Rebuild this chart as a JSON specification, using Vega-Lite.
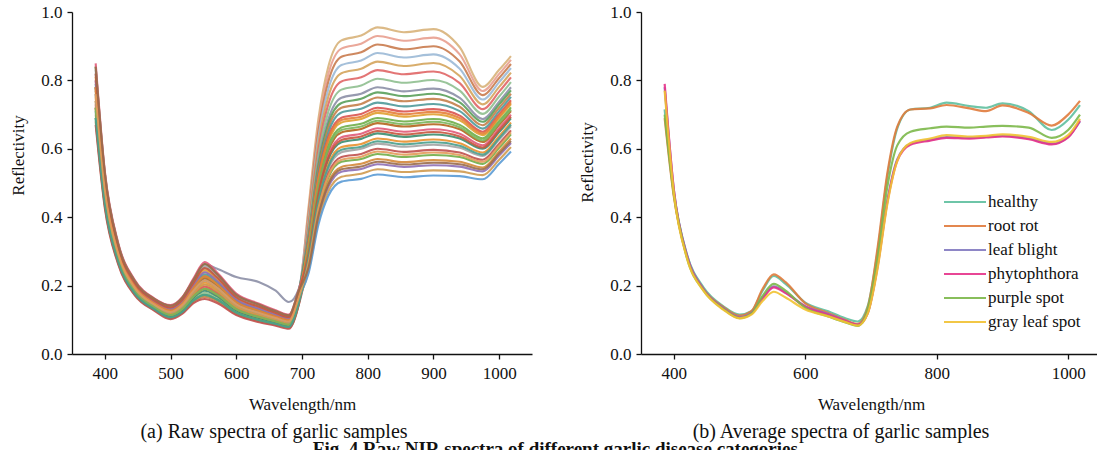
{
"$schema": "https://vega.github.io/schema/vega-lite/v6.json",
"padding": {"left": 9, "top": 3, "right": 0, "bottom": 0},
"background": "white",
"spacing": 46,
"resolve": {"scale": {"color": "independent"}, "legend": {"color": "independent"}},
"config": {
  "view": {"stroke": null},
  "font": "Liberation Serif",
  "axis": {"grid": false, "domainColor": "#111", "tickColor": "#111", "labelColor": "#111", "titleColor": "#111", "labelFont": "Liberation Serif", "labelFontSize": 17, "titleFont": "Liberation Serif", "titleFontSize": 17, "titleFontWeight": "normal", "tickSize": 5, "domainWidth": 1.3, "tickWidth": 1.3},
  "axisX": {"labelPadding": 6, "titlePadding": 15},
  "axisY": {"labelPadding": 5, "titlePadding": 13},
  "title": {"font": "Liberation Serif", "color": "#111"}
},
"title": {"text": "Fig. 4  Raw NIR spectra of different garlic disease categories", "orient": "bottom", "anchor": "middle", "fontWeight": "bold", "fontSize": 19, "offset": -2},
"datasets": {
"raw": [
{"s":"s01","w":386,"r":0.76},{"s":"s01","w":400,"r":0.48},{"s":"s01","w":420,"r":0.295},{"s":"s01","w":445,"r":0.195},{"s":"s01","w":475,"r":0.145},{"s":"s01","w":500,"r":0.123},{"s":"s01","w":518,"r":0.143},{"s":"s01","w":535,"r":0.185},{"s":"s01","w":552,"r":0.215},{"s":"s01","w":570,"r":0.195},{"s":"s01","w":600,"r":0.145},{"s":"s01","w":635,"r":0.12},{"s":"s01","w":660,"r":0.105},{"s":"s01","w":680,"r":0.095},{"s":"s01","w":695,"r":0.165},{"s":"s01","w":710,"r":0.43},{"s":"s01","w":725,"r":0.688},{"s":"s01","w":740,"r":0.84},{"s":"s01","w":760,"r":0.917},{"s":"s01","w":790,"r":0.931},{"s":"s01","w":815,"r":0.955},{"s":"s01","w":855,"r":0.941},{"s":"s01","w":900,"r":0.95},{"s":"s01","w":940,"r":0.897},{"s":"s01","w":975,"r":0.781},{"s":"s01","w":1000,"r":0.831},{"s":"s01","w":1018,"r":0.871},
{"s":"s02","w":386,"r":0.80},{"s":"s02","w":400,"r":0.504},{"s":"s02","w":420,"r":0.309},{"s":"s02","w":445,"r":0.205},{"s":"s02","w":475,"r":0.153},{"s":"s02","w":500,"r":0.132},{"s":"s02","w":518,"r":0.154},{"s":"s02","w":535,"r":0.201},{"s":"s02","w":552,"r":0.239},{"s":"s02","w":570,"r":0.215},{"s":"s02","w":600,"r":0.159},{"s":"s02","w":635,"r":0.132},{"s":"s02","w":660,"r":0.115},{"s":"s02","w":680,"r":0.104},{"s":"s02","w":695,"r":0.175},{"s":"s02","w":710,"r":0.419},{"s":"s02","w":725,"r":0.67},{"s":"s02","w":740,"r":0.818},{"s":"s02","w":760,"r":0.893},{"s":"s02","w":790,"r":0.907},{"s":"s02","w":815,"r":0.93},{"s":"s02","w":855,"r":0.916},{"s":"s02","w":900,"r":0.925},{"s":"s02","w":940,"r":0.876},{"s":"s02","w":975,"r":0.769},{"s":"s02","w":1000,"r":0.819},{"s":"s02","w":1018,"r":0.86},
{"s":"s03","w":386,"r":0.72},{"s":"s03","w":400,"r":0.456},{"s":"s03","w":420,"r":0.281},{"s":"s03","w":445,"r":0.185},{"s":"s03","w":475,"r":0.137},{"s":"s03","w":500,"r":0.114},{"s":"s03","w":518,"r":0.132},{"s":"s03","w":535,"r":0.169},{"s":"s03","w":552,"r":0.191},{"s":"s03","w":570,"r":0.175},{"s":"s03","w":600,"r":0.131},{"s":"s03","w":635,"r":0.108},{"s":"s03","w":660,"r":0.095},{"s":"s03","w":680,"r":0.086},{"s":"s03","w":695,"r":0.155},{"s":"s03","w":710,"r":0.407},{"s":"s03","w":725,"r":0.652},{"s":"s03","w":740,"r":0.796},{"s":"s03","w":760,"r":0.869},{"s":"s03","w":790,"r":0.882},{"s":"s03","w":815,"r":0.905},{"s":"s03","w":855,"r":0.891},{"s":"s03","w":900,"r":0.90},{"s":"s03","w":940,"r":0.855},{"s":"s03","w":975,"r":0.757},{"s":"s03","w":1000,"r":0.807},{"s":"s03","w":1018,"r":0.848},
{"s":"s04","w":386,"r":0.82},{"s":"s04","w":400,"r":0.516},{"s":"s04","w":420,"r":0.316},{"s":"s04","w":445,"r":0.21},{"s":"s04","w":475,"r":0.157},{"s":"s04","w":500,"r":0.136},{"s":"s04","w":518,"r":0.159},{"s":"s04","w":535,"r":0.209},{"s":"s04","w":552,"r":0.251},{"s":"s04","w":570,"r":0.225},{"s":"s04","w":600,"r":0.166},{"s":"s04","w":635,"r":0.138},{"s":"s04","w":660,"r":0.12},{"s":"s04","w":680,"r":0.108},{"s":"s04","w":695,"r":0.18},{"s":"s04","w":710,"r":0.396},{"s":"s04","w":725,"r":0.634},{"s":"s04","w":740,"r":0.774},{"s":"s04","w":760,"r":0.845},{"s":"s04","w":790,"r":0.858},{"s":"s04","w":815,"r":0.88},{"s":"s04","w":855,"r":0.867},{"s":"s04","w":900,"r":0.876},{"s":"s04","w":940,"r":0.834},{"s":"s04","w":975,"r":0.744},{"s":"s04","w":1000,"r":0.795},{"s":"s04","w":1018,"r":0.836},
{"s":"s05","w":386,"r":0.74},{"s":"s05","w":400,"r":0.468},{"s":"s05","w":420,"r":0.288},{"s":"s05","w":445,"r":0.19},{"s":"s05","w":475,"r":0.141},{"s":"s05","w":500,"r":0.118},{"s":"s05","w":518,"r":0.137},{"s":"s05","w":535,"r":0.177},{"s":"s05","w":552,"r":0.203},{"s":"s05","w":570,"r":0.185},{"s":"s05","w":600,"r":0.138},{"s":"s05","w":635,"r":0.114},{"s":"s05","w":660,"r":0.10},{"s":"s05","w":680,"r":0.09},{"s":"s05","w":695,"r":0.16},{"s":"s05","w":710,"r":0.385},{"s":"s05","w":725,"r":0.616},{"s":"s05","w":740,"r":0.752},{"s":"s05","w":760,"r":0.821},{"s":"s05","w":790,"r":0.834},{"s":"s05","w":815,"r":0.855},{"s":"s05","w":855,"r":0.842},{"s":"s05","w":900,"r":0.851},{"s":"s05","w":940,"r":0.813},{"s":"s05","w":975,"r":0.73},{"s":"s05","w":1000,"r":0.781},{"s":"s05","w":1018,"r":0.823},
{"s":"s06","w":386,"r":0.78},{"s":"s06","w":400,"r":0.492},{"s":"s06","w":420,"r":0.302},{"s":"s06","w":445,"r":0.20},{"s":"s06","w":475,"r":0.149},{"s":"s06","w":500,"r":0.127},{"s":"s06","w":518,"r":0.148},{"s":"s06","w":535,"r":0.193},{"s":"s06","w":552,"r":0.227},{"s":"s06","w":570,"r":0.205},{"s":"s06","w":600,"r":0.152},{"s":"s06","w":635,"r":0.126},{"s":"s06","w":660,"r":0.11},{"s":"s06","w":680,"r":0.099},{"s":"s06","w":695,"r":0.17},{"s":"s06","w":710,"r":0.374},{"s":"s06","w":725,"r":0.598},{"s":"s06","w":740,"r":0.73},{"s":"s06","w":760,"r":0.797},{"s":"s06","w":790,"r":0.809},{"s":"s06","w":815,"r":0.83},{"s":"s06","w":855,"r":0.818},{"s":"s06","w":900,"r":0.826},{"s":"s06","w":940,"r":0.792},{"s":"s06","w":975,"r":0.716},{"s":"s06","w":1000,"r":0.767},{"s":"s06","w":1018,"r":0.809},
{"s":"s07","w":386,"r":0.70},{"s":"s07","w":400,"r":0.444},{"s":"s07","w":420,"r":0.274},{"s":"s07","w":445,"r":0.18},{"s":"s07","w":475,"r":0.133},{"s":"s07","w":500,"r":0.109},{"s":"s07","w":518,"r":0.126},{"s":"s07","w":535,"r":0.161},{"s":"s07","w":552,"r":0.179},{"s":"s07","w":570,"r":0.165},{"s":"s07","w":600,"r":0.124},{"s":"s07","w":635,"r":0.102},{"s":"s07","w":660,"r":0.09},{"s":"s07","w":680,"r":0.081},{"s":"s07","w":695,"r":0.15},{"s":"s07","w":710,"r":0.362},{"s":"s07","w":725,"r":0.58},{"s":"s07","w":740,"r":0.708},{"s":"s07","w":760,"r":0.773},{"s":"s07","w":790,"r":0.785},{"s":"s07","w":815,"r":0.805},{"s":"s07","w":855,"r":0.793},{"s":"s07","w":900,"r":0.801},{"s":"s07","w":940,"r":0.77},{"s":"s07","w":975,"r":0.702},{"s":"s07","w":1000,"r":0.753},{"s":"s07","w":1018,"r":0.795},
{"s":"s08","w":386,"r":0.78},{"s":"s08","w":400,"r":0.49},{"s":"s08","w":420,"r":0.30},{"s":"s08","w":445,"r":0.20},{"s":"s08","w":475,"r":0.15},{"s":"s08","w":500,"r":0.135},{"s":"s08","w":518,"r":0.155},{"s":"s08","w":535,"r":0.215},{"s":"s08","w":552,"r":0.262},{"s":"s08","w":570,"r":0.25},{"s":"s08","w":600,"r":0.225},{"s":"s08","w":635,"r":0.21},{"s":"s08","w":660,"r":0.185},{"s":"s08","w":680,"r":0.152},{"s":"s08","w":695,"r":0.19},{"s":"s08","w":710,"r":0.351},{"s":"s08","w":725,"r":0.562},{"s":"s08","w":740,"r":0.686},{"s":"s08","w":760,"r":0.749},{"s":"s08","w":790,"r":0.761},{"s":"s08","w":815,"r":0.78},{"s":"s08","w":855,"r":0.768},{"s":"s08","w":900,"r":0.776},{"s":"s08","w":940,"r":0.749},{"s":"s08","w":975,"r":0.687},{"s":"s08","w":1000,"r":0.738},{"s":"s08","w":1018,"r":0.78},
{"s":"s09","w":386,"r":0.84},{"s":"s09","w":400,"r":0.528},{"s":"s09","w":420,"r":0.323},{"s":"s09","w":445,"r":0.215},{"s":"s09","w":475,"r":0.161},{"s":"s09","w":500,"r":0.141},{"s":"s09","w":518,"r":0.165},{"s":"s09","w":535,"r":0.217},{"s":"s09","w":552,"r":0.263},{"s":"s09","w":570,"r":0.235},{"s":"s09","w":600,"r":0.173},{"s":"s09","w":635,"r":0.144},{"s":"s09","w":660,"r":0.125},{"s":"s09","w":680,"r":0.113},{"s":"s09","w":695,"r":0.185},{"s":"s09","w":710,"r":0.344},{"s":"s09","w":725,"r":0.551},{"s":"s09","w":740,"r":0.673},{"s":"s09","w":760,"r":0.734},{"s":"s09","w":790,"r":0.746},{"s":"s09","w":815,"r":0.765},{"s":"s09","w":855,"r":0.754},{"s":"s09","w":900,"r":0.761},{"s":"s09","w":940,"r":0.736},{"s":"s09","w":975,"r":0.679},{"s":"s09","w":1000,"r":0.73},{"s":"s09","w":1018,"r":0.771},
{"s":"s10","w":386,"r":0.68},{"s":"s10","w":400,"r":0.432},{"s":"s10","w":420,"r":0.267},{"s":"s10","w":445,"r":0.175},{"s":"s10","w":475,"r":0.129},{"s":"s10","w":500,"r":0.105},{"s":"s10","w":518,"r":0.121},{"s":"s10","w":535,"r":0.153},{"s":"s10","w":552,"r":0.167},{"s":"s10","w":570,"r":0.155},{"s":"s10","w":600,"r":0.117},{"s":"s10","w":635,"r":0.096},{"s":"s10","w":660,"r":0.085},{"s":"s10","w":680,"r":0.077},{"s":"s10","w":695,"r":0.145},{"s":"s10","w":710,"r":0.338},{"s":"s10","w":725,"r":0.54},{"s":"s10","w":740,"r":0.66},{"s":"s10","w":760,"r":0.72},{"s":"s10","w":790,"r":0.731},{"s":"s10","w":815,"r":0.75},{"s":"s10","w":855,"r":0.739},{"s":"s10","w":900,"r":0.746},{"s":"s10","w":940,"r":0.723},{"s":"s10","w":975,"r":0.669},{"s":"s10","w":1000,"r":0.72},{"s":"s10","w":1018,"r":0.761},
{"s":"s11","w":386,"r":0.79},{"s":"s11","w":400,"r":0.498},{"s":"s11","w":420,"r":0.306},{"s":"s11","w":445,"r":0.203},{"s":"s11","w":475,"r":0.151},{"s":"s11","w":500,"r":0.129},{"s":"s11","w":518,"r":0.151},{"s":"s11","w":535,"r":0.197},{"s":"s11","w":552,"r":0.233},{"s":"s11","w":570,"r":0.21},{"s":"s11","w":600,"r":0.156},{"s":"s11","w":635,"r":0.129},{"s":"s11","w":660,"r":0.113},{"s":"s11","w":680,"r":0.101},{"s":"s11","w":695,"r":0.173},{"s":"s11","w":710,"r":0.331},{"s":"s11","w":725,"r":0.529},{"s":"s11","w":740,"r":0.647},{"s":"s11","w":760,"r":0.706},{"s":"s11","w":790,"r":0.717},{"s":"s11","w":815,"r":0.735},{"s":"s11","w":855,"r":0.724},{"s":"s11","w":900,"r":0.731},{"s":"s11","w":940,"r":0.71},{"s":"s11","w":975,"r":0.659},{"s":"s11","w":1000,"r":0.71},{"s":"s11","w":1018,"r":0.752},
{"s":"s12","w":386,"r":0.73},{"s":"s12","w":400,"r":0.462},{"s":"s12","w":420,"r":0.285},{"s":"s12","w":445,"r":0.188},{"s":"s12","w":475,"r":0.139},{"s":"s12","w":500,"r":0.116},{"s":"s12","w":518,"r":0.134},{"s":"s12","w":535,"r":0.173},{"s":"s12","w":552,"r":0.197},{"s":"s12","w":570,"r":0.18},{"s":"s12","w":600,"r":0.135},{"s":"s12","w":635,"r":0.111},{"s":"s12","w":660,"r":0.098},{"s":"s12","w":680,"r":0.088},{"s":"s12","w":695,"r":0.158},{"s":"s12","w":710,"r":0.324},{"s":"s12","w":725,"r":0.518},{"s":"s12","w":740,"r":0.634},{"s":"s12","w":760,"r":0.691},{"s":"s12","w":790,"r":0.702},{"s":"s12","w":815,"r":0.72},{"s":"s12","w":855,"r":0.709},{"s":"s12","w":900,"r":0.716},{"s":"s12","w":940,"r":0.697},{"s":"s12","w":975,"r":0.65},{"s":"s12","w":1000,"r":0.701},{"s":"s12","w":1018,"r":0.742},
{"s":"s13","w":386,"r":0.81},{"s":"s13","w":400,"r":0.51},{"s":"s13","w":420,"r":0.313},{"s":"s13","w":445,"r":0.208},{"s":"s13","w":475,"r":0.155},{"s":"s13","w":500,"r":0.134},{"s":"s13","w":518,"r":0.156},{"s":"s13","w":535,"r":0.205},{"s":"s13","w":552,"r":0.245},{"s":"s13","w":570,"r":0.22},{"s":"s13","w":600,"r":0.163},{"s":"s13","w":635,"r":0.135},{"s":"s13","w":660,"r":0.118},{"s":"s13","w":680,"r":0.106},{"s":"s13","w":695,"r":0.178},{"s":"s13","w":710,"r":0.317},{"s":"s13","w":725,"r":0.508},{"s":"s13","w":740,"r":0.62},{"s":"s13","w":760,"r":0.677},{"s":"s13","w":790,"r":0.687},{"s":"s13","w":815,"r":0.705},{"s":"s13","w":855,"r":0.694},{"s":"s13","w":900,"r":0.701},{"s":"s13","w":940,"r":0.683},{"s":"s13","w":975,"r":0.64},{"s":"s13","w":1000,"r":0.69},{"s":"s13","w":1018,"r":0.731},
{"s":"s14","w":386,"r":0.69},{"s":"s14","w":400,"r":0.438},{"s":"s14","w":420,"r":0.271},{"s":"s14","w":445,"r":0.178},{"s":"s14","w":475,"r":0.131},{"s":"s14","w":500,"r":0.107},{"s":"s14","w":518,"r":0.123},{"s":"s14","w":535,"r":0.157},{"s":"s14","w":552,"r":0.173},{"s":"s14","w":570,"r":0.16},{"s":"s14","w":600,"r":0.121},{"s":"s14","w":635,"r":0.099},{"s":"s14","w":660,"r":0.088},{"s":"s14","w":680,"r":0.079},{"s":"s14","w":695,"r":0.148},{"s":"s14","w":710,"r":0.311},{"s":"s14","w":725,"r":0.497},{"s":"s14","w":740,"r":0.607},{"s":"s14","w":760,"r":0.662},{"s":"s14","w":790,"r":0.673},{"s":"s14","w":815,"r":0.69},{"s":"s14","w":855,"r":0.68},{"s":"s14","w":900,"r":0.687},{"s":"s14","w":940,"r":0.67},{"s":"s14","w":975,"r":0.631},{"s":"s14","w":1000,"r":0.681},{"s":"s14","w":1018,"r":0.721},
{"s":"s15","w":386,"r":0.77},{"s":"s15","w":400,"r":0.486},{"s":"s15","w":420,"r":0.299},{"s":"s15","w":445,"r":0.198},{"s":"s15","w":475,"r":0.147},{"s":"s15","w":500,"r":0.125},{"s":"s15","w":518,"r":0.145},{"s":"s15","w":535,"r":0.189},{"s":"s15","w":552,"r":0.221},{"s":"s15","w":570,"r":0.20},{"s":"s15","w":600,"r":0.149},{"s":"s15","w":635,"r":0.123},{"s":"s15","w":660,"r":0.108},{"s":"s15","w":680,"r":0.097},{"s":"s15","w":695,"r":0.168},{"s":"s15","w":710,"r":0.304},{"s":"s15","w":725,"r":0.486},{"s":"s15","w":740,"r":0.594},{"s":"s15","w":760,"r":0.648},{"s":"s15","w":790,"r":0.658},{"s":"s15","w":815,"r":0.675},{"s":"s15","w":855,"r":0.665},{"s":"s15","w":900,"r":0.672},{"s":"s15","w":940,"r":0.657},{"s":"s15","w":975,"r":0.62},{"s":"s15","w":1000,"r":0.67},{"s":"s15","w":1018,"r":0.71},
{"s":"s16","w":386,"r":0.85},{"s":"s16","w":400,"r":0.534},{"s":"s16","w":420,"r":0.327},{"s":"s16","w":445,"r":0.218},{"s":"s16","w":475,"r":0.163},{"s":"s16","w":500,"r":0.143},{"s":"s16","w":518,"r":0.167},{"s":"s16","w":535,"r":0.221},{"s":"s16","w":552,"r":0.269},{"s":"s16","w":570,"r":0.24},{"s":"s16","w":600,"r":0.177},{"s":"s16","w":635,"r":0.147},{"s":"s16","w":660,"r":0.128},{"s":"s16","w":680,"r":0.115},{"s":"s16","w":695,"r":0.188},{"s":"s16","w":710,"r":0.297},{"s":"s16","w":725,"r":0.475},{"s":"s16","w":740,"r":0.581},{"s":"s16","w":760,"r":0.634},{"s":"s16","w":790,"r":0.644},{"s":"s16","w":815,"r":0.66},{"s":"s16","w":855,"r":0.65},{"s":"s16","w":900,"r":0.657},{"s":"s16","w":940,"r":0.644},{"s":"s16","w":975,"r":0.61},{"s":"s16","w":1000,"r":0.66},{"s":"s16","w":1018,"r":0.70},
{"s":"s17","w":386,"r":0.71},{"s":"s17","w":400,"r":0.45},{"s":"s17","w":420,"r":0.278},{"s":"s17","w":445,"r":0.183},{"s":"s17","w":475,"r":0.135},{"s":"s17","w":500,"r":0.111},{"s":"s17","w":518,"r":0.129},{"s":"s17","w":535,"r":0.165},{"s":"s17","w":552,"r":0.185},{"s":"s17","w":570,"r":0.17},{"s":"s17","w":600,"r":0.128},{"s":"s17","w":635,"r":0.105},{"s":"s17","w":660,"r":0.093},{"s":"s17","w":680,"r":0.083},{"s":"s17","w":695,"r":0.153},{"s":"s17","w":710,"r":0.29},{"s":"s17","w":725,"r":0.464},{"s":"s17","w":740,"r":0.568},{"s":"s17","w":760,"r":0.619},{"s":"s17","w":790,"r":0.629},{"s":"s17","w":815,"r":0.645},{"s":"s17","w":855,"r":0.635},{"s":"s17","w":900,"r":0.642},{"s":"s17","w":940,"r":0.63},{"s":"s17","w":975,"r":0.60},{"s":"s17","w":1000,"r":0.649},{"s":"s17","w":1018,"r":0.689},
{"s":"s18","w":386,"r":0.75},{"s":"s18","w":400,"r":0.474},{"s":"s18","w":420,"r":0.292},{"s":"s18","w":445,"r":0.193},{"s":"s18","w":475,"r":0.143},{"s":"s18","w":500,"r":0.12},{"s":"s18","w":518,"r":0.14},{"s":"s18","w":535,"r":0.181},{"s":"s18","w":552,"r":0.209},{"s":"s18","w":570,"r":0.19},{"s":"s18","w":600,"r":0.142},{"s":"s18","w":635,"r":0.117},{"s":"s18","w":660,"r":0.103},{"s":"s18","w":680,"r":0.092},{"s":"s18","w":695,"r":0.163},{"s":"s18","w":710,"r":0.284},{"s":"s18","w":725,"r":0.454},{"s":"s18","w":740,"r":0.554},{"s":"s18","w":760,"r":0.605},{"s":"s18","w":790,"r":0.614},{"s":"s18","w":815,"r":0.63},{"s":"s18","w":855,"r":0.621},{"s":"s18","w":900,"r":0.627},{"s":"s18","w":940,"r":0.616},{"s":"s18","w":975,"r":0.589},{"s":"s18","w":1000,"r":0.637},{"s":"s18","w":1018,"r":0.677},
{"s":"s19","w":386,"r":0.83},{"s":"s19","w":400,"r":0.522},{"s":"s19","w":420,"r":0.32},{"s":"s19","w":445,"r":0.213},{"s":"s19","w":475,"r":0.159},{"s":"s19","w":500,"r":0.138},{"s":"s19","w":518,"r":0.162},{"s":"s19","w":535,"r":0.213},{"s":"s19","w":552,"r":0.257},{"s":"s19","w":570,"r":0.23},{"s":"s19","w":600,"r":0.17},{"s":"s19","w":635,"r":0.141},{"s":"s19","w":660,"r":0.123},{"s":"s19","w":680,"r":0.11},{"s":"s19","w":695,"r":0.183},{"s":"s19","w":710,"r":0.277},{"s":"s19","w":725,"r":0.443},{"s":"s19","w":740,"r":0.541},{"s":"s19","w":760,"r":0.59},{"s":"s19","w":790,"r":0.60},{"s":"s19","w":815,"r":0.615},{"s":"s19","w":855,"r":0.606},{"s":"s19","w":900,"r":0.612},{"s":"s19","w":940,"r":0.603},{"s":"s19","w":975,"r":0.579},{"s":"s19","w":1000,"r":0.627},{"s":"s19","w":1018,"r":0.666},
{"s":"s20","w":386,"r":0.67},{"s":"s20","w":400,"r":0.426},{"s":"s20","w":420,"r":0.264},{"s":"s20","w":445,"r":0.173},{"s":"s20","w":475,"r":0.127},{"s":"s20","w":500,"r":0.102},{"s":"s20","w":518,"r":0.118},{"s":"s20","w":535,"r":0.149},{"s":"s20","w":552,"r":0.161},{"s":"s20","w":570,"r":0.15},{"s":"s20","w":600,"r":0.114},{"s":"s20","w":635,"r":0.093},{"s":"s20","w":660,"r":0.083},{"s":"s20","w":680,"r":0.074},{"s":"s20","w":695,"r":0.143},{"s":"s20","w":710,"r":0.27},{"s":"s20","w":725,"r":0.432},{"s":"s20","w":740,"r":0.528},{"s":"s20","w":760,"r":0.576},{"s":"s20","w":790,"r":0.585},{"s":"s20","w":815,"r":0.60},{"s":"s20","w":855,"r":0.591},{"s":"s20","w":900,"r":0.597},{"s":"s20","w":940,"r":0.589},{"s":"s20","w":975,"r":0.568},{"s":"s20","w":1000,"r":0.615},{"s":"s20","w":1018,"r":0.654},
{"s":"s21","w":386,"r":0.78},{"s":"s21","w":400,"r":0.492},{"s":"s21","w":420,"r":0.302},{"s":"s21","w":445,"r":0.20},{"s":"s21","w":475,"r":0.149},{"s":"s21","w":500,"r":0.127},{"s":"s21","w":518,"r":0.148},{"s":"s21","w":535,"r":0.193},{"s":"s21","w":552,"r":0.227},{"s":"s21","w":570,"r":0.205},{"s":"s21","w":600,"r":0.152},{"s":"s21","w":635,"r":0.126},{"s":"s21","w":660,"r":0.11},{"s":"s21","w":680,"r":0.099},{"s":"s21","w":695,"r":0.17},{"s":"s21","w":710,"r":0.263},{"s":"s21","w":725,"r":0.421},{"s":"s21","w":740,"r":0.515},{"s":"s21","w":760,"r":0.562},{"s":"s21","w":790,"r":0.57},{"s":"s21","w":815,"r":0.585},{"s":"s21","w":855,"r":0.576},{"s":"s21","w":900,"r":0.582},{"s":"s21","w":940,"r":0.576},{"s":"s21","w":975,"r":0.556},{"s":"s21","w":1000,"r":0.603},{"s":"s21","w":1018,"r":0.642},
{"s":"s22","w":386,"r":0.72},{"s":"s22","w":400,"r":0.456},{"s":"s22","w":420,"r":0.281},{"s":"s22","w":445,"r":0.185},{"s":"s22","w":475,"r":0.137},{"s":"s22","w":500,"r":0.114},{"s":"s22","w":518,"r":0.132},{"s":"s22","w":535,"r":0.169},{"s":"s22","w":552,"r":0.191},{"s":"s22","w":570,"r":0.175},{"s":"s22","w":600,"r":0.131},{"s":"s22","w":635,"r":0.108},{"s":"s22","w":660,"r":0.095},{"s":"s22","w":680,"r":0.086},{"s":"s22","w":695,"r":0.155},{"s":"s22","w":710,"r":0.257},{"s":"s22","w":725,"r":0.41},{"s":"s22","w":740,"r":0.502},{"s":"s22","w":760,"r":0.547},{"s":"s22","w":790,"r":0.556},{"s":"s22","w":815,"r":0.57},{"s":"s22","w":855,"r":0.561},{"s":"s22","w":900,"r":0.567},{"s":"s22","w":940,"r":0.562},{"s":"s22","w":975,"r":0.545},{"s":"s22","w":1000,"r":0.592},{"s":"s22","w":1018,"r":0.63},
{"s":"s23","w":386,"r":0.80},{"s":"s23","w":400,"r":0.504},{"s":"s23","w":420,"r":0.309},{"s":"s23","w":445,"r":0.205},{"s":"s23","w":475,"r":0.153},{"s":"s23","w":500,"r":0.132},{"s":"s23","w":518,"r":0.154},{"s":"s23","w":535,"r":0.201},{"s":"s23","w":552,"r":0.239},{"s":"s23","w":570,"r":0.215},{"s":"s23","w":600,"r":0.159},{"s":"s23","w":635,"r":0.132},{"s":"s23","w":660,"r":0.115},{"s":"s23","w":680,"r":0.104},{"s":"s23","w":695,"r":0.175},{"s":"s23","w":710,"r":0.25},{"s":"s23","w":725,"r":0.40},{"s":"s23","w":740,"r":0.488},{"s":"s23","w":760,"r":0.533},{"s":"s23","w":790,"r":0.541},{"s":"s23","w":815,"r":0.555},{"s":"s23","w":855,"r":0.547},{"s":"s23","w":900,"r":0.552},{"s":"s23","w":940,"r":0.548},{"s":"s23","w":975,"r":0.534},{"s":"s23","w":1000,"r":0.58},{"s":"s23","w":1018,"r":0.617},
{"s":"s24","w":386,"r":0.74},{"s":"s24","w":400,"r":0.468},{"s":"s24","w":420,"r":0.288},{"s":"s24","w":445,"r":0.19},{"s":"s24","w":475,"r":0.141},{"s":"s24","w":500,"r":0.118},{"s":"s24","w":518,"r":0.137},{"s":"s24","w":535,"r":0.177},{"s":"s24","w":552,"r":0.203},{"s":"s24","w":570,"r":0.185},{"s":"s24","w":600,"r":0.138},{"s":"s24","w":635,"r":0.114},{"s":"s24","w":660,"r":0.10},{"s":"s24","w":680,"r":0.09},{"s":"s24","w":695,"r":0.16},{"s":"s24","w":710,"r":0.243},{"s":"s24","w":725,"r":0.389},{"s":"s24","w":740,"r":0.475},{"s":"s24","w":760,"r":0.518},{"s":"s24","w":790,"r":0.527},{"s":"s24","w":815,"r":0.54},{"s":"s24","w":855,"r":0.532},{"s":"s24","w":900,"r":0.537},{"s":"s24","w":940,"r":0.534},{"s":"s24","w":975,"r":0.523},{"s":"s24","w":1000,"r":0.568},{"s":"s24","w":1018,"r":0.605},
{"s":"s25","w":386,"r":0.76},{"s":"s25","w":400,"r":0.48},{"s":"s25","w":420,"r":0.295},{"s":"s25","w":445,"r":0.195},{"s":"s25","w":475,"r":0.145},{"s":"s25","w":500,"r":0.123},{"s":"s25","w":518,"r":0.143},{"s":"s25","w":535,"r":0.185},{"s":"s25","w":552,"r":0.215},{"s":"s25","w":570,"r":0.195},{"s":"s25","w":600,"r":0.145},{"s":"s25","w":635,"r":0.12},{"s":"s25","w":660,"r":0.105},{"s":"s25","w":680,"r":0.095},{"s":"s25","w":695,"r":0.165},{"s":"s25","w":710,"r":0.236},{"s":"s25","w":725,"r":0.378},{"s":"s25","w":740,"r":0.462},{"s":"s25","w":760,"r":0.504},{"s":"s25","w":790,"r":0.512},{"s":"s25","w":815,"r":0.525},{"s":"s25","w":855,"r":0.517},{"s":"s25","w":900,"r":0.522},{"s":"s25","w":940,"r":0.52},{"s":"s25","w":975,"r":0.511},{"s":"s25","w":1000,"r":0.556},{"s":"s25","w":1018,"r":0.592},
{"s":"s26","w":386,"r":0.78},{"s":"s26","w":400,"r":0.492},{"s":"s26","w":420,"r":0.302},{"s":"s26","w":445,"r":0.20},{"s":"s26","w":475,"r":0.149},{"s":"s26","w":500,"r":0.127},{"s":"s26","w":518,"r":0.148},{"s":"s26","w":535,"r":0.193},{"s":"s26","w":552,"r":0.227},{"s":"s26","w":570,"r":0.205},{"s":"s26","w":600,"r":0.152},{"s":"s26","w":635,"r":0.126},{"s":"s26","w":660,"r":0.11},{"s":"s26","w":680,"r":0.099},{"s":"s26","w":695,"r":0.17},{"s":"s26","w":710,"r":0.32},{"s":"s26","w":725,"r":0.513},{"s":"s26","w":740,"r":0.627},{"s":"s26","w":760,"r":0.684},{"s":"s26","w":790,"r":0.694},{"s":"s26","w":815,"r":0.712},{"s":"s26","w":855,"r":0.701},{"s":"s26","w":900,"r":0.708},{"s":"s26","w":940,"r":0.69},{"s":"s26","w":975,"r":0.645},{"s":"s26","w":1000,"r":0.695},{"s":"s26","w":1018,"r":0.736},
{"s":"s27","w":386,"r":0.72},{"s":"s27","w":400,"r":0.456},{"s":"s27","w":420,"r":0.281},{"s":"s27","w":445,"r":0.185},{"s":"s27","w":475,"r":0.137},{"s":"s27","w":500,"r":0.114},{"s":"s27","w":518,"r":0.132},{"s":"s27","w":535,"r":0.169},{"s":"s27","w":552,"r":0.191},{"s":"s27","w":570,"r":0.175},{"s":"s27","w":600,"r":0.131},{"s":"s27","w":635,"r":0.108},{"s":"s27","w":660,"r":0.095},{"s":"s27","w":680,"r":0.086},{"s":"s27","w":695,"r":0.155},{"s":"s27","w":710,"r":0.307},{"s":"s27","w":725,"r":0.491},{"s":"s27","w":740,"r":0.60},{"s":"s27","w":760,"r":0.655},{"s":"s27","w":790,"r":0.665},{"s":"s27","w":815,"r":0.682},{"s":"s27","w":855,"r":0.672},{"s":"s27","w":900,"r":0.679},{"s":"s27","w":940,"r":0.663},{"s":"s27","w":975,"r":0.625},{"s":"s27","w":1000,"r":0.675},{"s":"s27","w":1018,"r":0.715},
{"s":"s28","w":386,"r":0.82},{"s":"s28","w":400,"r":0.516},{"s":"s28","w":420,"r":0.316},{"s":"s28","w":445,"r":0.21},{"s":"s28","w":475,"r":0.157},{"s":"s28","w":500,"r":0.136},{"s":"s28","w":518,"r":0.159},{"s":"s28","w":535,"r":0.209},{"s":"s28","w":552,"r":0.251},{"s":"s28","w":570,"r":0.225},{"s":"s28","w":600,"r":0.166},{"s":"s28","w":635,"r":0.138},{"s":"s28","w":660,"r":0.12},{"s":"s28","w":680,"r":0.108},{"s":"s28","w":695,"r":0.18},{"s":"s28","w":710,"r":0.293},{"s":"s28","w":725,"r":0.469},{"s":"s28","w":740,"r":0.574},{"s":"s28","w":760,"r":0.626},{"s":"s28","w":790,"r":0.636},{"s":"s28","w":815,"r":0.652},{"s":"s28","w":855,"r":0.642},{"s":"s28","w":900,"r":0.649},{"s":"s28","w":940,"r":0.636},{"s":"s28","w":975,"r":0.604},{"s":"s28","w":1000,"r":0.654},{"s":"s28","w":1018,"r":0.694},
{"s":"s29","w":386,"r":0.69},{"s":"s29","w":400,"r":0.438},{"s":"s29","w":420,"r":0.271},{"s":"s29","w":445,"r":0.178},{"s":"s29","w":475,"r":0.131},{"s":"s29","w":500,"r":0.107},{"s":"s29","w":518,"r":0.123},{"s":"s29","w":535,"r":0.157},{"s":"s29","w":552,"r":0.173},{"s":"s29","w":570,"r":0.16},{"s":"s29","w":600,"r":0.121},{"s":"s29","w":635,"r":0.099},{"s":"s29","w":660,"r":0.088},{"s":"s29","w":680,"r":0.079},{"s":"s29","w":695,"r":0.148},{"s":"s29","w":710,"r":0.28},{"s":"s29","w":725,"r":0.448},{"s":"s29","w":740,"r":0.547},{"s":"s29","w":760,"r":0.597},{"s":"s29","w":790,"r":0.606},{"s":"s29","w":815,"r":0.622},{"s":"s29","w":855,"r":0.613},{"s":"s29","w":900,"r":0.619},{"s":"s29","w":940,"r":0.609},{"s":"s29","w":975,"r":0.583},{"s":"s29","w":1000,"r":0.631},{"s":"s29","w":1018,"r":0.671},
{"s":"s30","w":386,"r":0.76},{"s":"s30","w":400,"r":0.48},{"s":"s30","w":420,"r":0.295},{"s":"s30","w":445,"r":0.195},{"s":"s30","w":475,"r":0.145},{"s":"s30","w":500,"r":0.123},{"s":"s30","w":518,"r":0.143},{"s":"s30","w":535,"r":0.185},{"s":"s30","w":552,"r":0.215},{"s":"s30","w":570,"r":0.195},{"s":"s30","w":600,"r":0.145},{"s":"s30","w":635,"r":0.12},{"s":"s30","w":660,"r":0.105},{"s":"s30","w":680,"r":0.095},{"s":"s30","w":695,"r":0.165},{"s":"s30","w":710,"r":0.266},{"s":"s30","w":725,"r":0.426},{"s":"s30","w":740,"r":0.521},{"s":"s30","w":760,"r":0.568},{"s":"s30","w":790,"r":0.577},{"s":"s30","w":815,"r":0.592},{"s":"s30","w":855,"r":0.583},{"s":"s30","w":900,"r":0.589},{"s":"s30","w":940,"r":0.582},{"s":"s30","w":975,"r":0.562},{"s":"s30","w":1000,"r":0.609},{"s":"s30","w":1018,"r":0.648},
{"s":"s31","w":386,"r":0.84},{"s":"s31","w":400,"r":0.528},{"s":"s31","w":420,"r":0.323},{"s":"s31","w":445,"r":0.215},{"s":"s31","w":475,"r":0.161},{"s":"s31","w":500,"r":0.141},{"s":"s31","w":518,"r":0.165},{"s":"s31","w":535,"r":0.217},{"s":"s31","w":552,"r":0.263},{"s":"s31","w":570,"r":0.235},{"s":"s31","w":600,"r":0.173},{"s":"s31","w":635,"r":0.144},{"s":"s31","w":660,"r":0.125},{"s":"s31","w":680,"r":0.113},{"s":"s31","w":695,"r":0.185},{"s":"s31","w":710,"r":0.253},{"s":"s31","w":725,"r":0.405},{"s":"s31","w":740,"r":0.495},{"s":"s31","w":760,"r":0.54},{"s":"s31","w":790,"r":0.548},{"s":"s31","w":815,"r":0.562},{"s":"s31","w":855,"r":0.554},{"s":"s31","w":900,"r":0.559},{"s":"s31","w":940,"r":0.555},{"s":"s31","w":975,"r":0.54},{"s":"s31","w":1000,"r":0.586},{"s":"s31","w":1018,"r":0.623}
],
"avg": [
{"c":"healthy","w":386,"r":0.715},{"c":"healthy","w":400,"r":0.47},{"c":"healthy","w":420,"r":0.29},{"c":"healthy","w":445,"r":0.195},{"c":"healthy","w":475,"r":0.14},{"c":"healthy","w":500,"r":0.115},{"c":"healthy","w":518,"r":0.125},{"c":"healthy","w":535,"r":0.185},{"c":"healthy","w":552,"r":0.228},{"c":"healthy","w":570,"r":0.205},{"c":"healthy","w":600,"r":0.15},{"c":"healthy","w":635,"r":0.125},{"c":"healthy","w":660,"r":0.105},{"c":"healthy","w":680,"r":0.095},{"c":"healthy","w":695,"r":0.14},{"c":"healthy","w":710,"r":0.30},{"c":"healthy","w":725,"r":0.52},{"c":"healthy","w":740,"r":0.66},{"c":"healthy","w":760,"r":0.715},{"c":"healthy","w":790,"r":0.72},{"c":"healthy","w":815,"r":0.735},{"c":"healthy","w":850,"r":0.725},{"c":"healthy","w":875,"r":0.72},{"c":"healthy","w":900,"r":0.733},{"c":"healthy","w":940,"r":0.71},{"c":"healthy","w":975,"r":0.655},{"c":"healthy","w":1000,"r":0.685},{"c":"healthy","w":1018,"r":0.728},
{"c":"root rot","w":386,"r":0.69},{"c":"root rot","w":400,"r":0.46},{"c":"root rot","w":420,"r":0.285},{"c":"root rot","w":445,"r":0.19},{"c":"root rot","w":475,"r":0.138},{"c":"root rot","w":500,"r":0.112},{"c":"root rot","w":518,"r":0.125},{"c":"root rot","w":535,"r":0.19},{"c":"root rot","w":552,"r":0.233},{"c":"root rot","w":570,"r":0.21},{"c":"root rot","w":600,"r":0.148},{"c":"root rot","w":635,"r":0.12},{"c":"root rot","w":660,"r":0.10},{"c":"root rot","w":680,"r":0.088},{"c":"root rot","w":695,"r":0.135},{"c":"root rot","w":710,"r":0.31},{"c":"root rot","w":725,"r":0.53},{"c":"root rot","w":740,"r":0.665},{"c":"root rot","w":760,"r":0.715},{"c":"root rot","w":790,"r":0.718},{"c":"root rot","w":815,"r":0.728},{"c":"root rot","w":850,"r":0.718},{"c":"root rot","w":875,"r":0.71},{"c":"root rot","w":900,"r":0.727},{"c":"root rot","w":940,"r":0.705},{"c":"root rot","w":975,"r":0.668},{"c":"root rot","w":1000,"r":0.70},{"c":"root rot","w":1018,"r":0.74},
{"c":"leaf blight","w":386,"r":0.78},{"c":"leaf blight","w":400,"r":0.48},{"c":"leaf blight","w":420,"r":0.29},{"c":"leaf blight","w":445,"r":0.19},{"c":"leaf blight","w":475,"r":0.135},{"c":"leaf blight","w":500,"r":0.108},{"c":"leaf blight","w":518,"r":0.12},{"c":"leaf blight","w":535,"r":0.165},{"c":"leaf blight","w":552,"r":0.198},{"c":"leaf blight","w":570,"r":0.18},{"c":"leaf blight","w":600,"r":0.14},{"c":"leaf blight","w":635,"r":0.117},{"c":"leaf blight","w":660,"r":0.098},{"c":"leaf blight","w":680,"r":0.085},{"c":"leaf blight","w":695,"r":0.12},{"c":"leaf blight","w":710,"r":0.26},{"c":"leaf blight","w":725,"r":0.45},{"c":"leaf blight","w":740,"r":0.57},{"c":"leaf blight","w":760,"r":0.615},{"c":"leaf blight","w":790,"r":0.626},{"c":"leaf blight","w":815,"r":0.634},{"c":"leaf blight","w":850,"r":0.632},{"c":"leaf blight","w":875,"r":0.635},{"c":"leaf blight","w":900,"r":0.638},{"c":"leaf blight","w":940,"r":0.63},{"c":"leaf blight","w":975,"r":0.615},{"c":"leaf blight","w":1000,"r":0.635},{"c":"leaf blight","w":1018,"r":0.68},
{"c":"phytophthora","w":386,"r":0.79},{"c":"phytophthora","w":400,"r":0.48},{"c":"phytophthora","w":420,"r":0.285},{"c":"phytophthora","w":445,"r":0.188},{"c":"phytophthora","w":475,"r":0.133},{"c":"phytophthora","w":500,"r":0.106},{"c":"phytophthora","w":518,"r":0.118},{"c":"phytophthora","w":535,"r":0.162},{"c":"phytophthora","w":552,"r":0.195},{"c":"phytophthora","w":570,"r":0.178},{"c":"phytophthora","w":600,"r":0.138},{"c":"phytophthora","w":635,"r":0.115},{"c":"phytophthora","w":660,"r":0.097},{"c":"phytophthora","w":680,"r":0.085},{"c":"phytophthora","w":695,"r":0.12},{"c":"phytophthora","w":710,"r":0.255},{"c":"phytophthora","w":725,"r":0.445},{"c":"phytophthora","w":740,"r":0.565},{"c":"phytophthora","w":760,"r":0.612},{"c":"phytophthora","w":790,"r":0.624},{"c":"phytophthora","w":815,"r":0.632},{"c":"phytophthora","w":850,"r":0.63},{"c":"phytophthora","w":875,"r":0.633},{"c":"phytophthora","w":900,"r":0.636},{"c":"phytophthora","w":940,"r":0.628},{"c":"phytophthora","w":975,"r":0.613},{"c":"phytophthora","w":1000,"r":0.633},{"c":"phytophthora","w":1018,"r":0.683},
{"c":"purple spot","w":386,"r":0.70},{"c":"purple spot","w":400,"r":0.465},{"c":"purple spot","w":420,"r":0.28},{"c":"purple spot","w":445,"r":0.186},{"c":"purple spot","w":475,"r":0.132},{"c":"purple spot","w":500,"r":0.105},{"c":"purple spot","w":518,"r":0.118},{"c":"purple spot","w":535,"r":0.17},{"c":"purple spot","w":552,"r":0.205},{"c":"purple spot","w":570,"r":0.185},{"c":"purple spot","w":600,"r":0.135},{"c":"purple spot","w":635,"r":0.11},{"c":"purple spot","w":660,"r":0.093},{"c":"purple spot","w":680,"r":0.082},{"c":"purple spot","w":695,"r":0.13},{"c":"purple spot","w":710,"r":0.28},{"c":"purple spot","w":725,"r":0.49},{"c":"purple spot","w":740,"r":0.61},{"c":"purple spot","w":760,"r":0.65},{"c":"purple spot","w":790,"r":0.66},{"c":"purple spot","w":815,"r":0.665},{"c":"purple spot","w":850,"r":0.662},{"c":"purple spot","w":875,"r":0.665},{"c":"purple spot","w":900,"r":0.667},{"c":"purple spot","w":940,"r":0.662},{"c":"purple spot","w":975,"r":0.632},{"c":"purple spot","w":1000,"r":0.655},{"c":"purple spot","w":1018,"r":0.70},
{"c":"gray leaf spot","w":386,"r":0.77},{"c":"gray leaf spot","w":400,"r":0.47},{"c":"gray leaf spot","w":420,"r":0.28},{"c":"gray leaf spot","w":445,"r":0.185},{"c":"gray leaf spot","w":475,"r":0.13},{"c":"gray leaf spot","w":500,"r":0.104},{"c":"gray leaf spot","w":518,"r":0.115},{"c":"gray leaf spot","w":535,"r":0.155},{"c":"gray leaf spot","w":552,"r":0.182},{"c":"gray leaf spot","w":570,"r":0.165},{"c":"gray leaf spot","w":600,"r":0.13},{"c":"gray leaf spot","w":635,"r":0.11},{"c":"gray leaf spot","w":660,"r":0.094},{"c":"gray leaf spot","w":680,"r":0.083},{"c":"gray leaf spot","w":695,"r":0.118},{"c":"gray leaf spot","w":710,"r":0.25},{"c":"gray leaf spot","w":725,"r":0.44},{"c":"gray leaf spot","w":740,"r":0.565},{"c":"gray leaf spot","w":760,"r":0.617},{"c":"gray leaf spot","w":790,"r":0.63},{"c":"gray leaf spot","w":815,"r":0.64},{"c":"gray leaf spot","w":850,"r":0.636},{"c":"gray leaf spot","w":875,"r":0.638},{"c":"gray leaf spot","w":900,"r":0.642},{"c":"gray leaf spot","w":940,"r":0.635},{"c":"gray leaf spot","w":975,"r":0.62},{"c":"gray leaf spot","w":1000,"r":0.64},{"c":"gray leaf spot","w":1018,"r":0.688}
]
},
"hconcat": [
{
  "width": 460, "height": 342,
  "data": {"name": "raw"},
  "title": {"text": "(a) Raw spectra of garlic samples", "orient": "bottom", "frame": "group", "anchor": "middle", "dx": -28, "fontSize": 20, "fontWeight": "normal", "offset": 10},
  "mark": {"type": "line", "interpolate": "monotone", "strokeWidth": 2.1, "opacity": 0.9},
  "encoding": {
    "x": {"field": "w", "type": "quantitative", "scale": {"domain": [350, 1050], "nice": false, "zero": false}, "axis": {"title": "Wavelength/nm", "values": [400, 500, 600, 700, 800, 900, 1000], "format": "d"}},
    "y": {"field": "r", "type": "quantitative", "scale": {"domain": [0, 1], "nice": false}, "axis": {"title": "Reflectivity", "values": [0, 0.2, 0.4, 0.6, 0.8, 1.0], "format": ".1f", "titleY": 143}},
    "color": {"field": "s", "type": "nominal", "legend": null, "scale": {"range": ["#d8b27a", "#e89f8f", "#c97b4e", "#9bb9d6", "#d4a45c", "#e06666", "#8fbf8f", "#8c8fa6", "#5aa05a", "#c4804a", "#4f9a9a", "#d9534f", "#e0a030", "#6fae48", "#b5651d", "#e05a78", "#3c8d6e", "#e8902e", "#a3a3a3", "#c0504d", "#70ad47", "#d4883a", "#8e6fb5", "#cf9a4f", "#5b9bd5", "#e57f3a", "#7ab55c", "#c8553d", "#4a9e8c", "#e39b5a", "#9a6b4b"]}}
  }
},
{
  "width": 460, "height": 342,
  "data": {"name": "avg"},
  "title": {"text": "(b) Average spectra of garlic samples", "orient": "bottom", "frame": "group", "anchor": "middle", "dx": -30, "fontSize": 20, "fontWeight": "normal", "offset": 10},
  "mark": {"type": "line", "interpolate": "monotone", "strokeWidth": 2.2, "opacity": 0.9},
  "encoding": {
    "x": {"field": "w", "type": "quantitative", "scale": {"domain": [350, 1050], "nice": false, "zero": false}, "axis": {"title": "Wavelength/nm", "values": [400, 600, 800, 1000], "format": "d"}},
    "y": {"field": "r", "type": "quantitative", "scale": {"domain": [0, 1], "nice": false}, "axis": {"title": "Reflectivity", "values": [0, 0.2, 0.4, 0.6, 0.8, 1.0], "format": ".1f", "titleY": 150}},
    "color": {"field": "c", "type": "nominal", "scale": {"domain": ["healthy", "root rot", "leaf blight", "phytophthora", "purple spot", "gray leaf spot"], "range": ["#5fbf9f", "#e07b3c", "#8279c0", "#e6338a", "#7cb84a", "#f1c232"]},
      "legend": {"orient": "none", "legendX": 302, "legendY": 178, "title": null, "symbolType": "stroke", "symbolSize": 1764, "symbolStrokeWidth": 2, "clipHeight": 24, "rowPadding": 0, "padding": 0, "labelFont": "Liberation Serif", "labelFontSize": 17, "labelColor": "#111", "labelOffset": 1, "labelExpr": "datum.label == 'healthy' ? '\u00a0healthy' : datum.label"}}
  }
}
]
}
